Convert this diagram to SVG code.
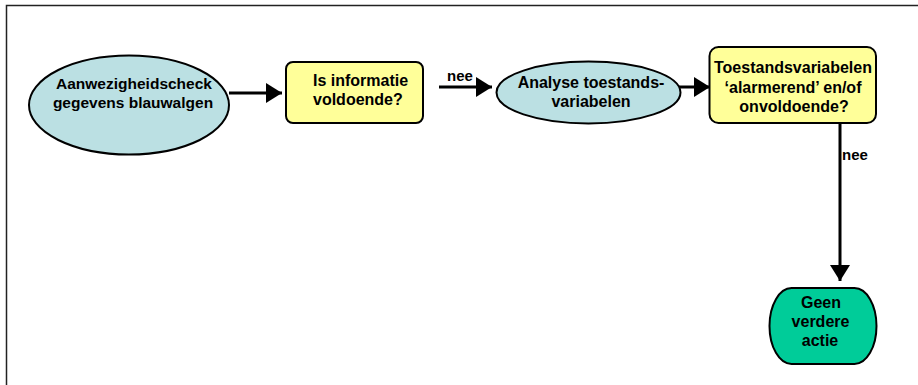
<svg xmlns="http://www.w3.org/2000/svg" width="918" height="385" viewBox="0 0 918 385">
<style>
text{font-family:"Liberation Sans",Arial,sans-serif;font-weight:bold;font-size:16px;fill:#000}
.c{text-anchor:middle}
.s{font-size:15.5px}
.ell{fill:#bbe0e3;stroke:#000;stroke-width:2}
.box{fill:#ffff99;stroke:#000;stroke-width:2}
.grn{fill:#00cc99;stroke:#000;stroke-width:2}
.con{stroke:#000;stroke-width:3;fill:none}
.lbl{font-size:15px}
</style>
<defs>
<marker id="ah" markerUnits="userSpaceOnUse" markerWidth="16" markerHeight="20" refX="16" refY="10" orient="auto">
<path d="M0,0 L16,10 L0,20 Z" fill="#000"/>
</marker>
</defs>
<rect width="918" height="385" fill="#fff"/>
<path d="M6.5,385 V5.5 H918" fill="none" stroke="#222" stroke-width="1.5"/>
<g id="connectors">
<line class="con" x1="229" y1="93" x2="282" y2="93" marker-end="url(#ah)"/>
<line class="con" x1="439" y1="87" x2="492" y2="87" marker-end="url(#ah)"/>
<text class="lbl" x="447" y="81">nee</text>
<line class="con" x1="678" y1="87" x2="710" y2="87" marker-end="url(#ah)"/>
<line class="con" x1="840" y1="123" x2="840" y2="281" marker-end="url(#ah)"/>
<text class="lbl" x="842" y="160">nee</text>
</g>
<g id="n1">
<ellipse class="ell" cx="129" cy="105" rx="100" ry="49.5"/>
<text class="c s" x="134" y="89">Aanwezigheidscheck</text>
<text class="c s" x="133" y="108">gegevens blauwalgen</text>
</g>
<g id="n2">
<rect class="box" x="286" y="62" width="137" height="61" rx="7"/>
<text x="313" y="86">Is informatie</text>
<text x="313" y="105">voldoende?</text>
</g>
<g id="n3">
<ellipse class="ell" cx="588.5" cy="92.5" rx="92" ry="31"/>
<text class="c" x="591" y="88">Analyse toestands-</text>
<text class="c" x="591" y="107">variabelen</text>
</g>
<g id="n4">
<rect class="box" x="709.5" y="47" width="166.5" height="76" rx="9"/>
<text class="c" x="793" y="73">Toestandsvariabelen</text>
<text class="c" x="793" y="92.5">‘alarmerend’ en/of</text>
<text class="c" x="794" y="112">onvoldoende?</text>
</g>
<g id="n5">
<rect class="grn" x="769.5" y="288" width="107" height="76" rx="22" ry="38"/>
<text class="c" x="821" y="308">Geen</text>
<text class="c" x="820.5" y="327">verdere</text>
<text class="c" x="820" y="346">actie</text>
</g>
</svg>
